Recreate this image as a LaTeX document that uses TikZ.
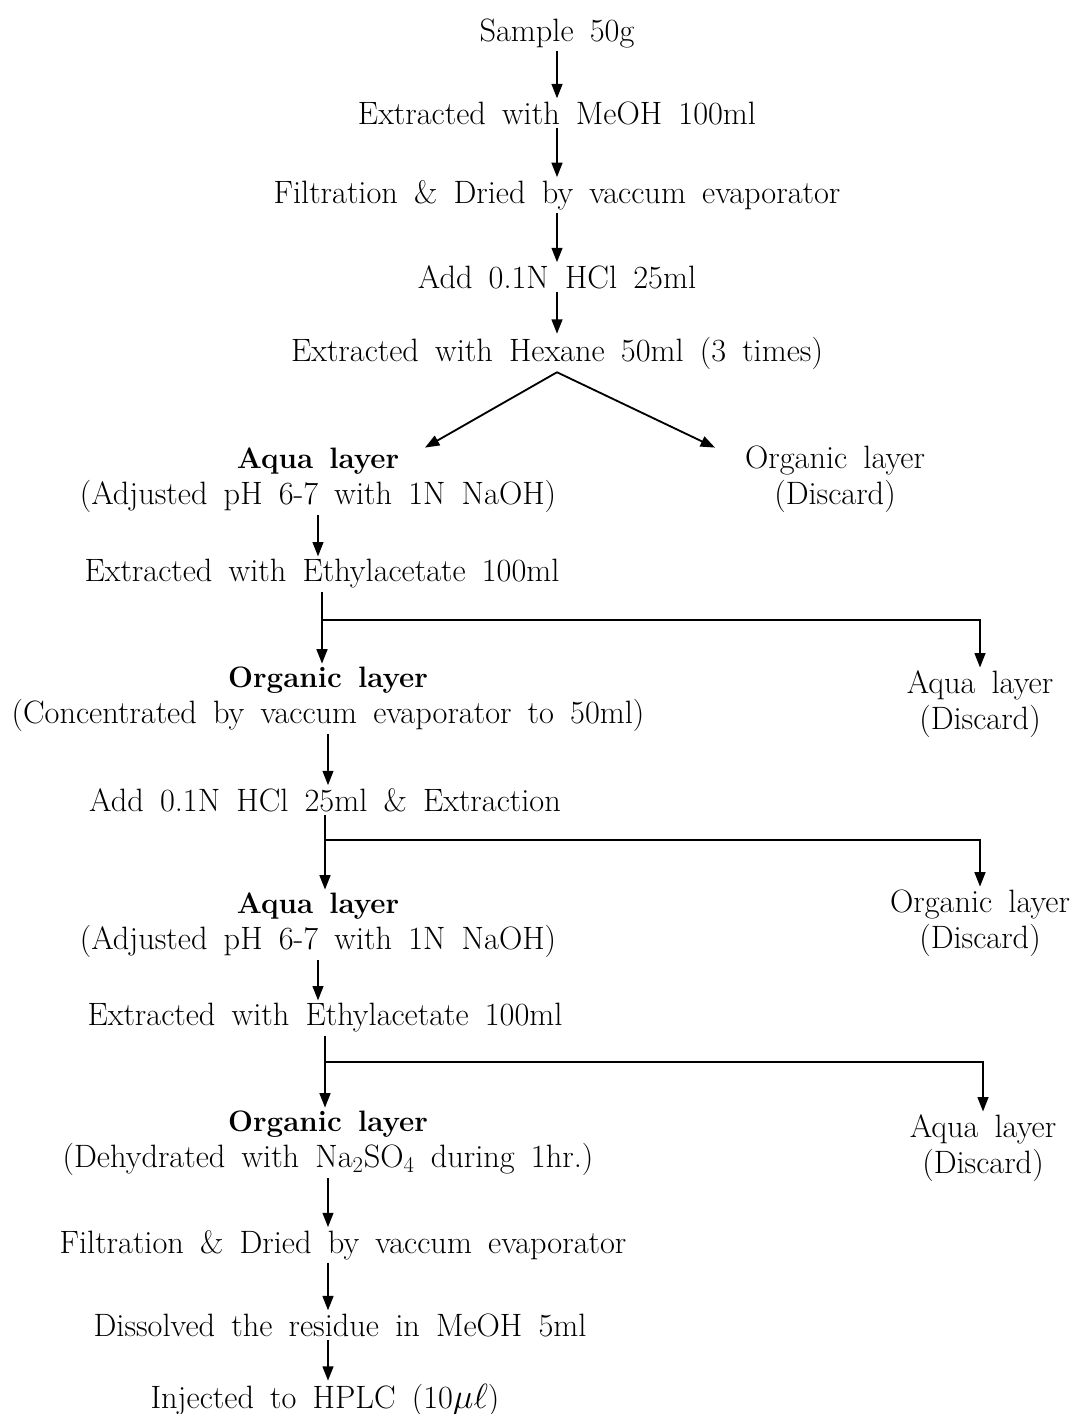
\documentclass[tikz,border=0pt]{standalone}
\usetikzlibrary{arrows.meta,calc}
\newcommand{\flowfont}{\fontsize{23}{25.5}\selectfont\spaceskip 0.5em plus 0.1em\relax}
\newcommand{\layer}[1]{{\fontsize{21}{25.5}\selectfont\bfseries #1}}
\begin{document}
\begin{tikzpicture}[x=0.025cm, y=-0.025cm,
		txt/.style={font=\flowfont, align=center, inner sep=2pt},
		ln/.style={line width=1.3pt},
		arr/.style={ln, -{Triangle[length=0.36cm,width=0.27cm]}}]
		\useasboundingbox[fill=white] (0,0) rectangle (1076,1414);

		% Etapes
		\node[txt] at (557,33) (sample) {Sample 50g};
		\node[txt] at (557,113) (meoh) {Extracted with MeOH 100ml};
		\node[txt] at (557,195) (filt) {Filtration \& Dried by vaccum evaporator};
		\node[txt] at (557,277) (hcl) {Add 0.1N HCl 25ml};
		\node[txt] at (557,353) (hexane) {Extracted with Hexane 50ml (3 times)};
		\node[txt] at (318,480) (aqua) {\layer{Aqua layer}\\(Adjusted pH 6-7 with 1N NaOH)};
		\node[txt] at (835,479) (org) {Organic layer\\(Discard)};
		\node[txt] at (322,574) (ethyl) {Extracted with Ethylacetate 100ml};
		\node[txt] at (328,699) (orgconc) {\layer{Organic layer}\\(Concentrated by vaccum evaporator to 50ml)};
		\node[txt] at (980,704) (aquadisc) {Aqua layer\\(Discard)};
		\node[txt] at (325,800) (hcltwo) {Add 0.1N HCl 25ml \& Extraction};
		\node[txt] at (318,925) (aquatwo) {\layer{Aqua layer}\\(Adjusted pH 6-7 with 1N NaOH)};
		\node[txt] at (980,923) (orgdisc) {Organic layer\\(Discard)};
		\node[txt] at (325,1018) (ethyltwo) {Extracted with Ethylacetate 100ml};
		\node[txt] at (328,1143) (orgdry) {\layer{Organic layer}\\(Dehydrated with Na\textsubscript{2}SO\textsubscript{4} during 1hr.)};
		\node[txt] at (983,1148) (aquadisctwo) {Aqua layer\\(Discard)};
		\node[txt] at (343,1245) (filttwo) {Filtration \& Dried by vaccum evaporator};
		\node[txt] at (340,1325) (dissolve) {Dissolved the residue in MeOH 5ml};
		\node[txt] at (325,1400) (hplc) {Injected to HPLC (10$\mu\ell$)};

		% Niveaux des branchements
		\coordinate (splitone) at (0,620);
		\coordinate (splittwo) at (0,840);
		\coordinate (splitthree) at (0,1062);

		% Fleches
		\draw[arr] (sample) -- (meoh);
		\draw[arr] (meoh) -- (filt);
		\draw[arr] (filt) -- (hcl);
		\draw[arr] (hcl) -- (hexane);
		\draw[arr] (hexane.south) -- ($(aqua.north)+(107,3)$);
		\draw[arr] (hexane.south) -- ($(aqua.north)+(397,3)$);
		\draw[arr] (aqua.south) -- (aqua.south |- ethyl.north);
		\draw[arr] (ethyl.south) -- (ethyl.south |- orgconc.north);
		\draw[arr] (ethyl.south |- splitone) -| (aquadisc.north);
		\draw[arr] (orgconc.south) -- (orgconc.south |- hcltwo.north);
		\draw[arr] (hcltwo.south) -- (hcltwo.south |- aquatwo.north);
		\draw[arr] (hcltwo.south |- splittwo) -| (orgdisc.north);
		\draw[arr] (aquatwo.south) -- (aquatwo.south |- ethyltwo.north);
		\draw[arr] (ethyltwo.south) -- (ethyltwo.south |- orgdry.north);
		\draw[arr] (ethyltwo.south |- splitthree) -| (aquadisctwo.north);
		\draw[arr] (orgdry.south) -- (orgdry.south |- filttwo.north);
		\draw[arr] (orgdry.south |- filttwo.south) -- (orgdry.south |- dissolve.north);
		\draw[arr] (orgdry.south |- dissolve.south) -- (orgdry.south |- hplc.north);
\end{tikzpicture}
\end{document}
